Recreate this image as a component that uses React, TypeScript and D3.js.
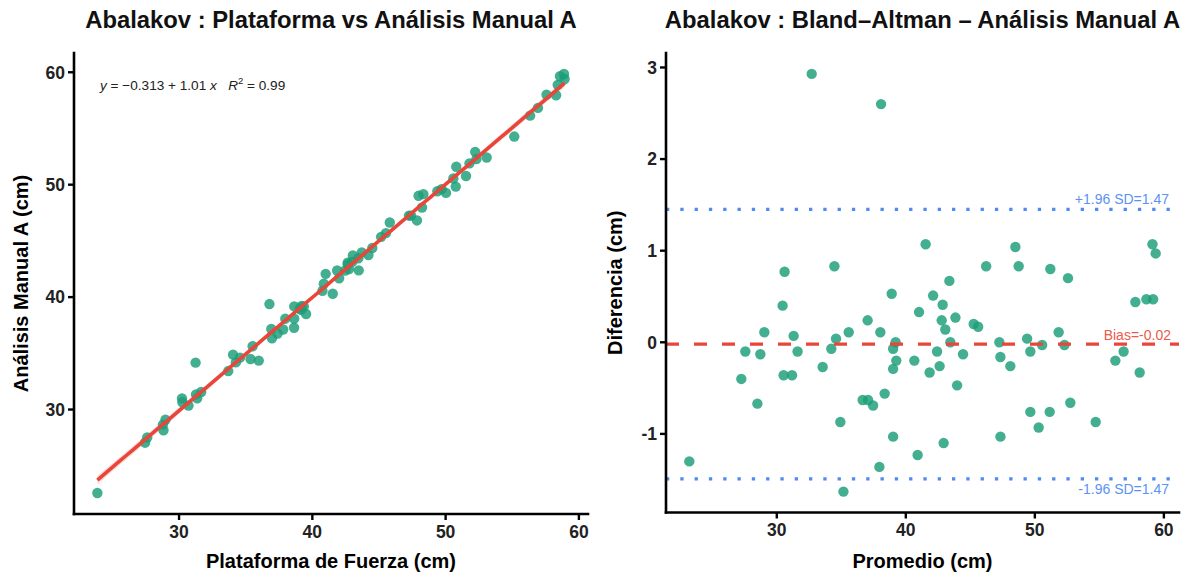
import React from "react";
import * as d3 from "d3";

// Paired measurements (cm), ordered by their mean
const plataforma = [
  23.87, 27.45, 27.61, 28.83, 28.79, 28.98, 30.25, 30.71, 30.22, 31.36,
  31.27, 31.66, 31.24, 33.69, 34.26, 34.05, 34.57, 35.36, 35.98, 35.52,
  36.97, 36.92, 37.39, 37.81, 38.63, 36.78, 37.97, 38.64, 38.64, 39.05,
  39.16, 39.53, 39.21, 39.36, 40.76, 41.53, 40.86, 41.0, 42.01, 41.86,
  42.47, 42.75, 42.66, 42.65, 43.48, 42.99, 43.04, 43.45, 43.71, 44.21,
  44.5, 45.16, 45.52, 45.81, 47.25, 47.41, 47.85, 48.23, 47.97, 48.33,
  49.38, 49.7, 50.03, 50.76, 50.58, 51.53, 50.8, 51.79, 52.31, 52.22,
  53.08, 55.15, 56.34, 56.93, 57.57, 58.29, 58.41, 58.58, 58.93, 58.88,
];
const manualA = [
  22.57, 27.05, 27.51, 28.16, 28.66, 29.09, 30.65, 30.35, 30.99, 31.0,
  31.34, 31.56, 34.17, 33.42, 34.19, 34.88, 34.61, 34.49, 34.35, 35.63,
  36.34, 37.16, 36.76, 37.12, 37.27, 39.38, 38.08, 38.08, 39.17, 38.98,
  38.87, 38.5, 39.21, 39.16, 40.56, 40.3, 41.19, 42.07, 41.68, 42.37,
  42.37, 42.49, 42.9, 43.06, 42.38, 43.13, 43.71, 43.45, 43.98, 43.74,
  44.37, 45.36, 45.69, 46.64, 47.25, 47.25, 46.82, 47.97, 49.01, 49.16,
  49.42, 49.6, 49.27, 49.83, 50.55, 50.77, 51.6, 51.9, 52.28, 52.92,
  52.42, 54.28, 56.14, 56.83, 58.01, 57.96, 58.88, 59.65, 59.4, 59.85,
];

// Reported statistics
const regIntercept = -0.313;
const regSlope = 1.01;
const rSquared = 0.99;
const bias = -0.02;
const loa = 1.47; // 1.96 * SD

const xTicksLeft = [30, 40, 50, 60];
const yTicksLeft = [30, 40, 50, 60];
const xTicksRight = [30, 40, 50, 60];
const yTicksRight = [-1, 0, 1, 2, 3];

const FONT = "'Liberation Sans', Arial, Helvetica, sans-serif";
const PT_COLOR = "#1B9E77";
const RED = "#E8463A";
const BLUE = "#4F8BF0";

function expand(vals: number[]): [number, number] {
  const lo = d3.min(vals) as number;
  const hi = d3.max(vals) as number;
  const r = hi - lo;
  return [lo - 0.05 * r, hi + 0.05 * r];
}

function Axes({ x, y, xTicks, yTicks, xTitle, yTitle, title, yTitleX }: any) {
  const [x0, x1] = x.range();
  const [y0, y1] = y.range();
  const cx = (x0 + x1) / 2;
  const cy = (y0 + y1) / 2;
  return (
    <g fontFamily={FONT}>
      <line x1={x0} x2={x1} y1={y0} y2={y0} stroke="#000" strokeWidth={2.6} strokeLinecap="square" />
      <line x1={x0} x2={x0} y1={y0} y2={y1} stroke="#000" strokeWidth={2.6} strokeLinecap="square" />
      {xTicks.map((t: number) => (
        <g key={"x" + t}>
          <line x1={x(t)} x2={x(t)} y1={y0} y2={y0 + 6} stroke="#000" strokeWidth={2.4} />
          <text x={x(t)} y={y0 + 23.5} textAnchor="middle" fontSize={17.5} fontWeight="bold" fill="#222">
            {t}
          </text>
        </g>
      ))}
      {yTicks.map((t: number) => (
        <g key={"y" + t}>
          <line x1={x0 - 6} x2={x0} y1={y(t)} y2={y(t)} stroke="#000" strokeWidth={2.4} />
          <text x={x0 - 9} y={y(t) + 6.3} textAnchor="end" fontSize={17.5} fontWeight="bold" fill="#222">
            {t}
          </text>
        </g>
      ))}
      <text x={cx} y={568} textAnchor="middle" fontSize={20} fontWeight="bold" fill="#000">
        {xTitle}
      </text>
      <text
        transform={`translate(${yTitleX},${cy}) rotate(-90)`}
        textAnchor="middle"
        fontSize={20}
        fontWeight="bold"
        fill="#000"
      >
        {yTitle}
      </text>
      <text x={cx} y={28} textAnchor="middle" fontSize={23.8} fontWeight="bold" fill="#111">
        {title}
      </text>
    </g>
  );
}

export default function App() {
  const n = plataforma.length;

  // Left panel: scatter with linear fit
  const xL = d3.scaleLinear().domain(expand(plataforma)).range([74, 588]);
  const yL = d3.scaleLinear().domain(expand(manualA)).range([514, 53]);

  const mx = d3.mean(plataforma) as number;
  const my = d3.mean(manualA) as number;
  let sxx = 0, sxy = 0;
  for (let i = 0; i < n; i++) {
    sxx += (plataforma[i] - mx) ** 2;
    sxy += (plataforma[i] - mx) * (manualA[i] - my);
  }
  const b1 = sxy / sxx;
  const b0 = my - b1 * mx;
  let sse = 0;
  for (let i = 0; i < n; i++) sse += (manualA[i] - (b0 + b1 * plataforma[i])) ** 2;
  const s = Math.sqrt(sse / (n - 2));
  const [xmin, xmax] = d3.extent(plataforma) as [number, number];
  const grid = d3.range(0, 81).map((k) => xmin + ((xmax - xmin) * k) / 80);
  const band = d3
    .area<number>()
    .x((v) => xL(v))
    .y0((v) => yL(b0 + b1 * v - 1.99 * s * Math.sqrt(1 / n + (v - mx) ** 2 / sxx)))
    .y1((v) => yL(b0 + b1 * v + 1.99 * s * Math.sqrt(1 / n + (v - mx) ** 2 / sxx)));
  const fitLine = d3
    .line<number>()
    .x((v) => xL(v))
    .y((v) => yL(b0 + b1 * v));

  // Right panel: Bland-Altman
  const promedio = plataforma.map((p, i) => (p + manualA[i]) / 2);
  const diferencia = plataforma.map((p, i) => manualA[i] - p);
  const upper = bias + loa;
  const lower = bias - loa;
  const xR = d3.scaleLinear().domain(expand(promedio)).range([666, 1179]);
  const yR = d3.scaleLinear().domain(expand([...diferencia, upper, lower])).range([512.5, 53]);
  const [rx0, rx1] = xR.range();

  return (
    <svg
      width={1190}
      height={576}
      style={{ position: "absolute", left: 0, top: 0, background: "#fff" }}
      fontFamily={FONT}
    >
      <rect width={1190} height={576} fill="#fff" />

      {/* Left panel */}
      <path d={band(grid) || ""} fill={RED} fillOpacity={0.18} />
      {plataforma.map((p, i) => (
        <circle key={"l" + i} cx={xL(p)} cy={yL(manualA[i])} r={5.2} fill={PT_COLOR} fillOpacity={0.82} />
      ))}
      <path d={fitLine(grid) || ""} fill="none" stroke={RED} strokeWidth={3.6} />
      <text x={100} y={90} fontSize={13.6} fill="#222">
        <tspan fontStyle="italic">y</tspan>
        <tspan> = −{Math.abs(regIntercept).toFixed(3)} + {regSlope.toFixed(2)} </tspan>
        <tspan fontStyle="italic">x</tspan>
        <tspan>{"\u00A0\u00A0\u00A0"}</tspan>
        <tspan fontStyle="italic">R</tspan>
        <tspan dy={-6} fontSize={9.5}>2</tspan>
        <tspan dy={6}> = {rSquared.toFixed(2)}</tspan>
      </text>
      <Axes
        x={xL}
        y={yL}
        xTicks={xTicksLeft}
        yTicks={yTicksLeft}
        xTitle="Plataforma de Fuerza (cm)"
        yTitle="Análisis Manual A (cm)"
        title="Abalakov : Plataforma vs Análisis Manual A"
        yTitleX={28}
      />

      {/* Right panel */}
      {promedio.map((a, i) => (
        <circle key={"r" + i} cx={xR(a)} cy={yR(diferencia[i])} r={5.2} fill={PT_COLOR} fillOpacity={0.82} />
      ))}
      <line x1={rx0} x2={rx1} y1={yR(bias)} y2={yR(bias)} stroke={RED} strokeWidth={3.2} strokeDasharray="13 15" />
      <line x1={rx0} x2={rx1} y1={yR(upper)} y2={yR(upper)} stroke={BLUE} strokeWidth={3.2} strokeDasharray="3.3 11" />
      <line x1={rx0} x2={rx1} y1={yR(lower)} y2={yR(lower)} stroke={BLUE} strokeWidth={3.2} strokeDasharray="3.3 11" />
      <text x={1169} y={yR(upper) - 5} textAnchor="end" fontSize={14} fill="#5B93F2">
        {`+1.96 SD=${loa.toFixed(2)}`}
      </text>
      <text x={1171} y={yR(bias) - 4} textAnchor="end" fontSize={14} fill="#EC5A4E">
        {`Bias=${bias.toFixed(2)}`}
      </text>
      <text x={1169} y={yR(lower) + 15} textAnchor="end" fontSize={14} fill="#5B93F2">
        {`-1.96 SD=${loa.toFixed(2)}`}
      </text>
      <Axes
        x={xR}
        y={yR}
        xTicks={xTicksRight}
        yTicks={yTicksRight}
        xTitle="Promedio (cm)"
        yTitle="Diferencia (cm)"
        title="Abalakov : Bland–Altman – Análisis Manual A"
        yTitleX={622}
      />
    </svg>
  );
}
